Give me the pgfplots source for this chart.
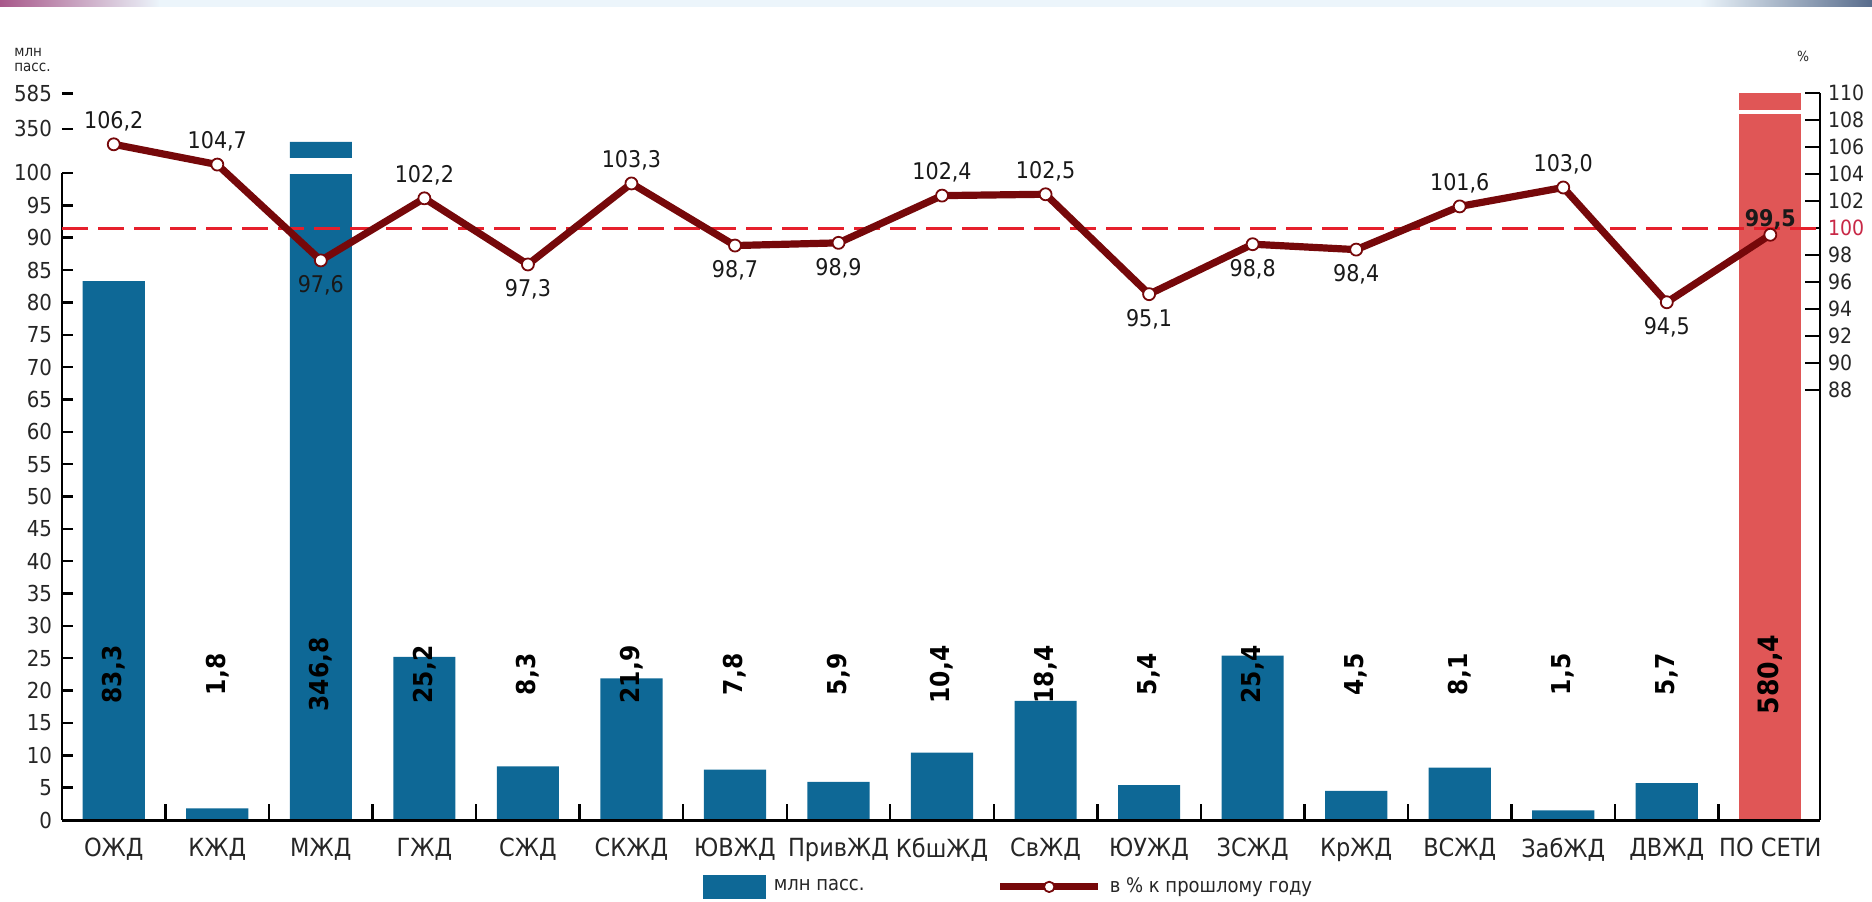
\documentclass[border=0pt]{standalone}
\usepackage{fontspec}
\setmainfont{DejaVu Sans Condensed}
\usepackage{pgfplots}
\usepackage{pgfplotstable}
\pgfplotsset{compat=1.18}
\definecolor{barblue}{RGB}{14,104,150}
\definecolor{barred}{RGB}{224,86,86}
\definecolor{linered}{RGB}{118,8,10}
\definecolor{dashred}{RGB}{230,32,44}
\definecolor{pctred}{RGB}{200,40,70}
\definecolor{stripL}{RGB}{168,88,138}
\definecolor{stripM}{RGB}{236,245,251}
\definecolor{stripR}{RGB}{88,108,140}

% h = bar height on the (broken) left scale; lab = value label
\pgfplotstableread{
x  h     ly    lab
0  83.3  22.5  83,3
1  1.8   22.5  1,8
2  104.8 22.5  346,8
3  25.2  22.5  25,2
4  8.3   22.5  8,3
5  21.9  22.5  21,9
6  7.8   22.5  7,8
7  5.9   22.5  5,9
8  10.4  22.5  10,4
9  18.4  22.5  18,4
10 5.4   22.5  5,4
11 25.4  22.5  25,4
12 4.5   22.5  4,5
13 8.1   22.5  8,1
14 1.5   22.5  1,5
15 5.7   22.5  5,7
}\bars
\pgfplotstableread{
x  h     ly    lab
16 112.3 22.5  580,4
}\total
\pgfplotstableread{
x  pct   dy     lab
0  106.2 11.5   106,2
1  104.7 11.5   104,7
2  97.6  -12.5  97,6
3  102.2 11.5   102,2
4  97.3  -12.5  97,3
5  103.3 11.5   103,3
6  98.7  -12.5  98,7
7  98.9  -12.5  98,9
8  102.4 11.5   102,4
9  102.5 11.5   102,5
10 95.1  -12.5  95,1
11 98.8  -12.5  98,8
12 98.4  -12.5  98,4
13 101.6 11.5   101,6
14 103.0 11.5   103,0
15 94.5  -12.5  94,5
16 99.5  7.5    \textbf{99,5}
}\pct

\begin{document}
\begin{tikzpicture}
\path[use as bounding box] (0,0) rectangle (936pt,450.5pt);
% top decorative strip
\shade[left color=stripL, right color=stripM] (0,447pt) rectangle (80pt,450.5pt);
\fill[stripM] (79.5pt,447pt) rectangle (850.5pt,450.5pt);
\shade[left color=stripM, right color=stripR] (850pt,447pt) rectangle (936pt,450.5pt);
\node[anchor=north west, align=left, font=\fontsize{7.5}{7.5}\selectfont, text=black!85, inner sep=0pt] at (7pt,426.5pt) {млн\\пасс.};
\node[anchor=center, font=\fontsize{7}{7}\selectfont, text=black!85, inner sep=0pt] at (901.5pt,422.5pt) {\%};

\begin{axis}[
  at={(31pt,40.5pt)}, anchor=south west, scale only axis,
  width=879pt, height=363.5pt,
  xmin=-0.5, xmax=16.48, ymin=0, ymax=112.36,
  axis line style={draw=none},
  clip=false,
  xtick={0,1,2,3,4,5,6,7,8,9,10,11,12,13,14,15,16},
  xticklabels={ОЖД,КЖД,МЖД,ГЖД,СЖД,СКЖД,ЮВЖД,ПривЖД,КбшЖД,СвЖД,ЮУЖД,ЗСЖД,КрЖД,ВСЖД,ЗабЖД,ДВЖД,ПО СЕТИ},
  xtick style={draw=none},
  xticklabel style={font=\fontsize{12.5}{12.5}\selectfont, yshift=-5.5pt, text=black!85},
  ytick={0,5,10,15,20,25,30,35,40,45,50,55,60,65,70,75,80,85,90,95,100,106.8,112.3},
  yticklabels={0,5,10,15,20,25,30,35,40,45,50,55,60,65,70,75,80,85,90,95,100,350,585},
  ytick pos=left, ytick align=inside, major tick length=5.5pt,
  ytick style={black, line width=1.2pt},
  yticklabel style={font=\fontsize{11}{11}\selectfont, xshift=-1.5pt, text=black!85},
]
\addplot[ybar, bar width=0.6, bar shift=0pt, fill=barblue, draw=none] table[x=x,y=h]{\bars};
\addplot[ybar, bar width=0.6, bar shift=0pt, fill=barred, draw=none] table[x=x,y=h]{\total};
% scale-break gaps
\addplot[fill=white, draw=none] coordinates {(1.68,99.9) (2.32,99.9) (2.32,102.3) (1.68,102.3)} -- cycle;
\addplot[fill=white, draw=none] coordinates {(15.68,109.1) (16.32,109.1) (16.32,109.7) (15.68,109.7)} -- cycle;
% category separators
\addplot[ycomb, black, line width=1.2pt, mark=none] coordinates {(0.5,2.5) (1.5,2.5) (2.5,2.5) (3.5,2.5) (4.5,2.5) (5.5,2.5) (6.5,2.5) (7.5,2.5) (8.5,2.5) (9.5,2.5) (10.5,2.5) (11.5,2.5) (12.5,2.5) (13.5,2.5) (14.5,2.5) (15.5,2.5)};
% value labels
\addplot[draw=none, mark=none, point meta=explicit symbolic, nodes near coords,
  nodes near coords style={rotate=90, anchor=center, font=\bfseries\fontsize{13}{13}\selectfont, text=black}]
  table[x=x, y=ly, meta=lab]{\bars};
\addplot[draw=none, mark=none, point meta=explicit symbolic, nodes near coords,
  nodes near coords style={rotate=90, anchor=center, font=\bfseries\fontsize{14}{14}\selectfont, text=black}]
  table[x=x, y=ly, meta=lab]{\total};
\draw[black, line width=1.3pt] (axis cs:-0.5,0) -- (axis cs:-0.5,100);
\draw[black, line width=1.5pt] (axis cs:-0.5,0) -- (axis cs:16.48,0);
\end{axis}

\begin{axis}[
  at={(31pt,40.5pt)}, anchor=south west, scale only axis,
  width=879pt, height=363.5pt,
  xmin=-0.5, xmax=16.48, ymin=56.15, ymax=110,
  axis x line=none, axis y line*=right,
  y axis line style={-, black, line width=1.3pt},
  ytick={88,90,92,94,96,98,100,102,104,106,108,110},
  yticklabels={88,90,92,94,96,98,\textcolor{pctred}{100},102,104,106,108,110},
  ytick align=inside, major tick length=7.5pt,
  ytick style={black, line width=1.2pt},
  yticklabel style={font=\fontsize{10.5}{10.5}\selectfont, xshift=0.5pt, text=black!85},
  clip=false,
  legend columns=2,
  legend style={draw=none, fill=none, at={(0.539,-0.092)}, anchor=center,
    font=\fontsize{10}{10}\selectfont, text=black!85,
    /tikz/every even column/.append style={column sep=64pt},
    /tikz/every odd column/.append style={column sep=2pt}},
  legend cell align=left,
]
\addlegendimage{legend image code/.code={\fill[barblue] (0pt,-5.75pt) rectangle (31pt,5.75pt);}}
\addlegendentry{млн пасс.}
\addplot[dashred, line width=1.5pt, dash pattern=on 13pt off 5pt, forget plot] coordinates {(-0.5,100) (16.48,100)};
\addplot[linered, line width=3.6pt, line join=round, mark=*, mark size=3pt,
  mark options={fill=white, draw=linered, line width=0.9pt, solid},
  legend image code/.code={\draw[linered, line width=3.6pt] (0pt,0pt) -- (49pt,0pt);
    \draw[linered, fill=white, line width=0.9pt] (24.5pt,0pt) circle (2.6pt);}]
  table[x=x,y=pct]{\pct};
\addlegendentry{в \% к прошлому году}
\addplot[draw=none, mark=none, forget plot, point meta=explicit symbolic,
  visualization depends on={\thisrow{dy}\as\dy}, nodes near coords,
  nodes near coords style={anchor=center, yshift=\dy, font=\fontsize{11.5}{11.5}\selectfont, text=black!90}]
  table[x=x,y=pct,meta=lab]{\pct};
\end{axis}
\end{tikzpicture}
\end{document}
